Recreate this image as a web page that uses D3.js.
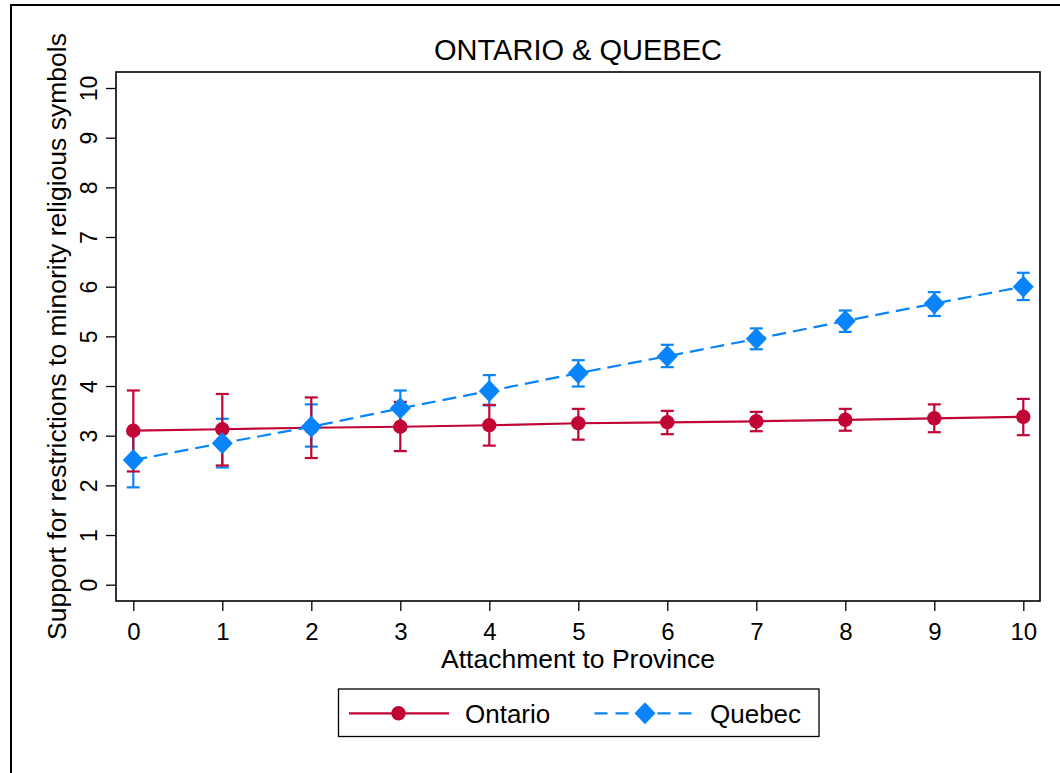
<!DOCTYPE html>
<html>
<head>
<meta charset="utf-8">
<script src="https://cdn.jsdelivr.net/npm/d3@7"></script>
<style>
html,body{margin:0;padding:0;background:#fff;}
svg{display:block;font-family:"Liberation Sans",Arial,Helvetica,sans-serif;}
</style>
</head>
<body>
<svg id="chart" width="1060" height="773"></svg>
<script>
const xValues = [0,1,2,3,4,5,6,7,8,9,10];
const ontarioMean = [3.10,3.13,3.16,3.18,3.21,3.25,3.27,3.29,3.32,3.35,3.38];
const ontarioLow  = [2.28,2.40,2.55,2.69,2.80,2.92,3.03,3.09,3.10,3.07,3.01];
const ontarioHigh = [3.91,3.84,3.77,3.68,3.62,3.54,3.50,3.48,3.54,3.63,3.74];
const quebecMean  = [2.51,2.85,3.18,3.55,3.90,4.26,4.60,4.95,5.31,5.66,6.00];
const quebecLow   = [1.96,2.36,2.78,3.19,3.61,3.99,4.38,4.74,5.09,5.41,5.73];
const quebecHigh  = [3.06,3.34,3.63,3.91,4.22,4.52,4.83,5.16,5.52,5.89,6.28];
const xTicks = [0,1,2,3,4,5,6,7,8,9,10];
const yTicks = [0,1,2,3,4,5,6,7,8,9,10];
const seriesNames = ["Ontario","Quebec"];
const titleText = "ONTARIO & QUEBEC";
const xTitle = "Attachment to Province";
const yTitle = "Support for restrictions to minority religious symbols";

const RED = "#c10534", BLUE = "#0a84fb";
const FONT = "Liberation Sans, Arial, sans-serif";
const svg = d3.select("#chart");
const plot = {left:116, right:1040, top:72, bottom:601};

// outer frame
svg.append("rect").attr("x",11).attr("y",5).attr("width",1100).attr("height",900)
  .attr("fill","none").attr("stroke","#000").attr("stroke-width",2);

const x = d3.scaleLinear().domain([0,10]).range([133.3,1023.3]);
const y = d3.scaleLinear().domain([0,10]).range([584.7,88]);

// plot box
svg.append("rect").attr("x",plot.left).attr("y",plot.top)
  .attr("width",plot.right-plot.left).attr("height",plot.bottom-plot.top)
  .attr("fill","none").attr("stroke","#000").attr("stroke-width",1.6);

// axes
const xAxis = svg.append("g").attr("transform",`translate(0,${plot.bottom})`)
  .call(d3.axisBottom(x).tickValues(xTicks).tickSize(10).tickPadding(12).tickFormat(d3.format("d")));
xAxis.select(".domain").remove();
xAxis.selectAll("line").attr("stroke","#000").attr("stroke-width",1.3);
xAxis.selectAll("text").attr("font-size",24).attr("fill","#000").attr("font-family",FONT);

const yAxis = svg.append("g").attr("transform",`translate(${plot.left},0)`)
  .call(d3.axisLeft(y).tickValues(yTicks).tickSize(10).tickFormat(d3.format("d")));
yAxis.select(".domain").remove();
yAxis.selectAll("line").attr("stroke","#000").attr("stroke-width",1.3);
yAxis.selectAll("text").attr("font-size",23).attr("fill","#000")
  .attr("font-family",FONT)
  .attr("x",null).attr("dy",null).attr("text-anchor","middle")
  .attr("transform","translate(-19,0) rotate(-90)");

// titles
svg.append("text").attr("x",(plot.left+plot.right)/2).attr("y",60)
  .attr("text-anchor","middle").attr("font-size",29).text(titleText);
svg.append("text").attr("x",(plot.left+plot.right)/2).attr("y",668)
  .attr("text-anchor","middle").attr("font-size",26.5).text(xTitle);
svg.append("text").attr("transform",`translate(66,${(plot.top+plot.bottom)/2}) rotate(-90)`)
  .attr("text-anchor","middle").attr("font-size",26.5).text(yTitle);

function drawCI(low, high, color){
  const g = svg.append("g").attr("stroke",color).attr("stroke-width",2.2).attr("fill","none");
  xValues.forEach((xv,i)=>{
    g.append("line").attr("x1",x(xv)).attr("x2",x(xv)).attr("y1",y(low[i])).attr("y2",y(high[i]));
    g.append("line").attr("x1",x(xv)-6.5).attr("x2",x(xv)+6.5).attr("y1",y(low[i])).attr("y2",y(low[i]));
    g.append("line").attr("x1",x(xv)-6.5).attr("x2",x(xv)+6.5).attr("y1",y(high[i])).attr("y2",y(high[i]));
  });
}
drawCI(quebecLow, quebecHigh, BLUE);
drawCI(ontarioLow, ontarioHigh, RED);

const line = d3.line().x((d,i)=>x(xValues[i])).y(d=>y(d));
svg.append("path").datum(ontarioMean).attr("d",line).attr("fill","none")
  .attr("stroke",RED).attr("stroke-width",2.2);
svg.append("g").selectAll("circle").data(ontarioMean).join("circle")
  .attr("cx",(d,i)=>x(xValues[i])).attr("cy",d=>y(d)).attr("r",7.2).attr("fill",RED);

svg.append("path").datum(quebecMean).attr("d",line).attr("fill","none")
  .attr("stroke",BLUE).attr("stroke-width",2.2).attr("stroke-dasharray","14,7");
const diamondPath = "M0,-11L10.5,0L0,11L-10.5,0Z";
svg.append("g").selectAll("path").data(quebecMean).join("path")
  .attr("d",diamondPath)
  .attr("transform",(d,i)=>`translate(${x(xValues[i])},${y(d)})`).attr("fill",BLUE);

// legend
const lg = svg.append("g");
lg.append("rect").attr("x",338.5).attr("y",689).attr("width",480.5).attr("height",47.5)
  .attr("fill","#fff").attr("stroke","#000").attr("stroke-width",1.3);
const ly = 713.3;
lg.append("line").attr("x1",349).attr("x2",449).attr("y1",ly).attr("y2",ly).attr("stroke",RED).attr("stroke-width",2.2);
lg.append("circle").attr("cx",398.5).attr("cy",ly).attr("r",7.2).attr("fill",RED);
lg.append("text").attr("x",465).attr("y",723).attr("font-size",26).text(seriesNames[0]);
lg.append("line").attr("x1",594.5).attr("x2",694.5).attr("y1",ly).attr("y2",ly).attr("stroke",BLUE)
  .attr("stroke-width",2.2).attr("stroke-dasharray","13,8");
lg.append("path").attr("d",diamondPath).attr("transform",`translate(645,${ly})`).attr("fill",BLUE);
lg.append("text").attr("x",710).attr("y",723).attr("font-size",26).text(seriesNames[1]);
</script>
</body>
</html>
